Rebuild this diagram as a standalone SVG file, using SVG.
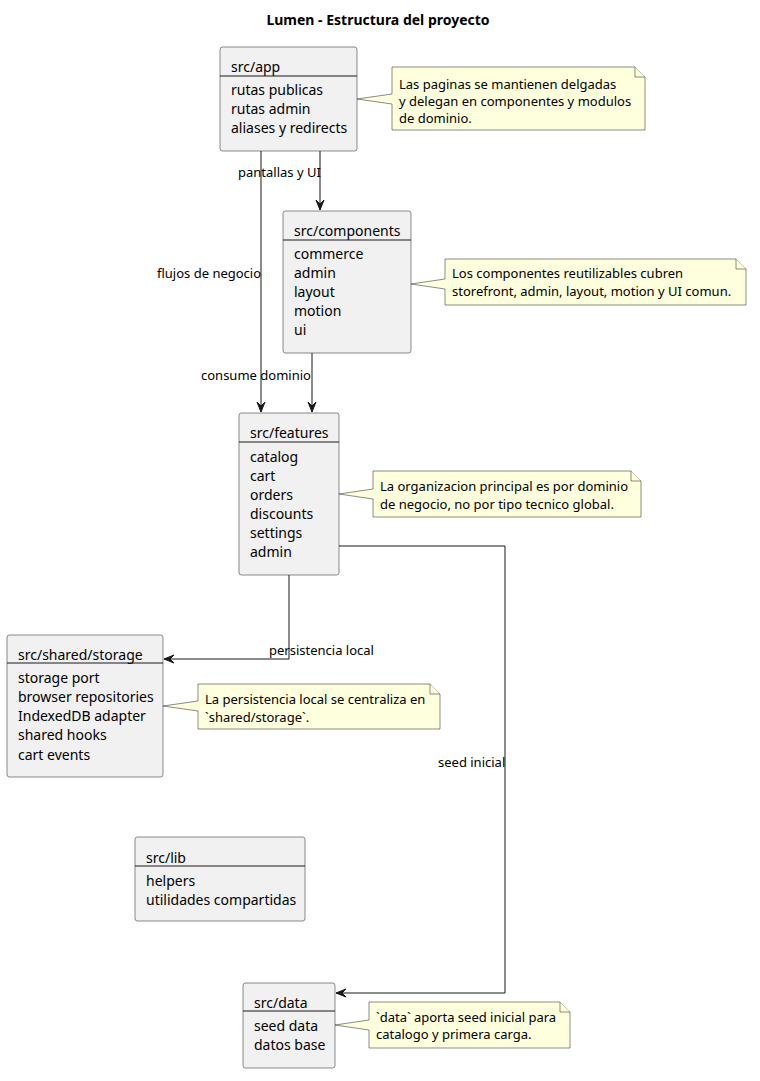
<svg xmlns="http://www.w3.org/2000/svg" width="760" height="1081" viewBox="0 0 760 1081">
<defs>
<style>
.cls{fill:#F1F1F1;stroke:#181818;stroke-width:0.5}
.sep{stroke:#181818;stroke-width:1}
.t{font-family:"Noto Sans","DejaVu Sans",sans-serif;font-size:14px;fill:#000}
.n{fill:#FEFFDD;stroke:#181818;stroke-width:0.5}
.nt{font-family:"Noto Sans","DejaVu Sans",sans-serif;font-size:13px;fill:#000}
.lbl{font-family:"Noto Sans","DejaVu Sans",sans-serif;font-size:13px;fill:#000}
.e{fill:none;stroke:#181818;stroke-width:1}
.title{font-family:"Noto Sans","DejaVu Sans",sans-serif;font-size:14px;font-weight:bold;fill:#000}
</style>
<marker id="arr" viewBox="0 0 12 10" refX="11" refY="5" markerWidth="12" markerHeight="10" markerUnits="userSpaceOnUse" orient="auto">
<path d="M11,5 L1,1 L5,5 L1,9 Z" fill="#181818" stroke="#181818" stroke-width="1"/>
</marker>
</defs>
<rect width="760" height="1081" fill="#FFFFFF"/>
<text class="title" x="378" y="25" text-anchor="middle">Lumen - Estructura del proyecto</text>

<g id="edges">
<path class="e" d="M320,151 L320,210" marker-end="url(#arr)"/>
<text class="lbl" x="238" y="177">pantallas y UI</text>
<path class="e" d="M261,151 L261,412" marker-end="url(#arr)"/>
<text class="lbl" x="157" y="278">flujos de negocio</text>
<path class="e" d="M312,353 L312,412" marker-end="url(#arr)"/>
<text class="lbl" x="201" y="380">consume dominio</text>
<path class="e" d="M289,575 L289,659 L164,659" marker-end="url(#arr)"/>
<text class="lbl" x="269" y="655">persistencia local</text>
<path class="e" d="M339,546 L505,546 L505,993 L336,993" marker-end="url(#arr)"/>
<text class="lbl" x="438" y="767">seed inicial</text>
</g>

<g id="app">
<rect class="cls" x="220" y="47" width="137" height="104" rx="2.5"/>
<text class="t" x="231" y="72">src/app</text>
<line class="sep" x1="220" y1="76" x2="357" y2="76"/>
<text class="t" x="231" y="95">rutas publicas</text>
<text class="t" x="231" y="114">rutas admin</text>
<text class="t" x="231" y="133">aliases y redirects</text>
</g>
<g id="note-app">
<path class="n" d="M392,67 L392,94 L357,99 L392,104 L392,130 L645,130 L645,77 L635,67 Z"/>
<path class="n" d="M635,67 L635,77 L645,77"/>
<text class="nt" x="399" y="89">Las paginas se mantienen delgadas</text>
<text class="nt" x="399" y="106">y delegan en componentes y modulos</text>
<text class="nt" x="399" y="123">de dominio.</text>
</g>

<g id="components">
<rect class="cls" x="283" y="211" width="128" height="142" rx="2.5"/>
<text class="t" x="294" y="236">src/components</text>
<line class="sep" x1="283" y1="240" x2="411" y2="240"/>
<text class="t" x="294" y="259">commerce</text>
<text class="t" x="294" y="278">admin</text>
<text class="t" x="294" y="297">layout</text>
<text class="t" x="294" y="316">motion</text>
<text class="t" x="294" y="335">ui</text>
</g>
<g id="note-components">
<path class="n" d="M445,259 L445,279 L411,284 L445,289 L445,305 L746,305 L746,269 L736,259 Z"/>
<path class="n" d="M736,259 L736,269 L746,269"/>
<text class="nt" x="452" y="278">Los componentes reutilizables cubren</text>
<text class="nt" x="452" y="296">storefront, admin, layout, motion y UI comun.</text>
</g>

<g id="features">
<rect class="cls" x="239" y="413" width="100" height="162" rx="2.5"/>
<text class="t" x="250" y="438">src/features</text>
<line class="sep" x1="239" y1="442" x2="339" y2="442"/>
<text class="t" x="250" y="462">catalog</text>
<text class="t" x="250" y="481">cart</text>
<text class="t" x="250" y="500">orders</text>
<text class="t" x="250" y="519">discounts</text>
<text class="t" x="250" y="538">settings</text>
<text class="t" x="250" y="557">admin</text>
</g>
<g id="note-features">
<path class="n" d="M373,471 L373,489 L339,494 L373,499 L373,517 L641,517 L641,481 L631,471 Z"/>
<path class="n" d="M631,471 L631,481 L641,481"/>
<text class="nt" x="380" y="491">La organizacion principal es por dominio</text>
<text class="nt" x="380" y="509">de negocio, no por tipo tecnico global.</text>
</g>

<g id="storage">
<rect class="cls" x="7" y="635" width="156" height="142" rx="2.5"/>
<text class="t" x="18" y="660">src/shared/storage</text>
<line class="sep" x1="7" y1="663" x2="163" y2="663"/>
<text class="t" x="18" y="683">storage port</text>
<text class="t" x="18" y="702">browser repositories</text>
<text class="t" x="18" y="721">IndexedDB adapter</text>
<text class="t" x="18" y="740">shared hooks</text>
<text class="t" x="18" y="760">cart events</text>
</g>
<g id="note-storage">
<path class="n" d="M198,684 L198,701 L163,706 L198,711 L198,729 L440,729 L440,694 L430,684 Z"/>
<path class="n" d="M430,684 L430,694 L440,694"/>
<text class="nt" x="205" y="704">La persistencia local se centraliza en</text>
<text class="nt" x="205" y="722">`shared/storage`.</text>
</g>

<g id="lib">
<rect class="cls" x="135" y="837" width="170" height="84" rx="2.5"/>
<text class="t" x="146" y="863">src/lib</text>
<line class="sep" x1="135" y1="866" x2="305" y2="866"/>
<text class="t" x="146" y="886">helpers</text>
<text class="t" x="146" y="905">utilidades compartidas</text>
</g>

<g id="data">
<rect class="cls" x="243" y="983" width="92" height="85" rx="2.5"/>
<text class="t" x="254" y="1008">src/data</text>
<line class="sep" x1="243" y1="1011" x2="335" y2="1011"/>
<text class="t" x="254" y="1031">seed data</text>
<text class="t" x="254" y="1050">datos base</text>
</g>
<g id="note-data">
<path class="n" d="M369,1002 L369,1020 L335,1025 L369,1030 L369,1048 L570,1048 L570,1012 L560,1002 Z"/>
<path class="n" d="M560,1002 L560,1012 L570,1012"/>
<text class="nt" x="376" y="1022">`data` aporta seed inicial para</text>
<text class="nt" x="376" y="1039">catalogo y primera carga.</text>
</g>
</svg>
